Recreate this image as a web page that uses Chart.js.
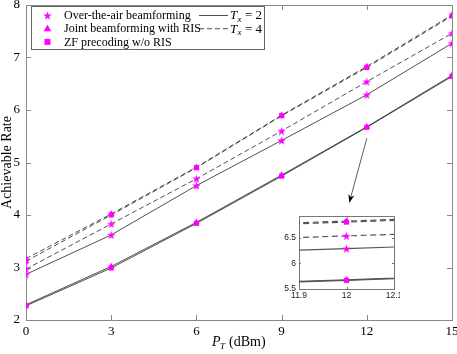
<!DOCTYPE html>
<html>
<head>
<meta charset="utf-8">
<script src="https://cdn.jsdelivr.net/npm/chart.js@4.4.0/dist/chart.umd.min.js"></script>
<style>
html, body { margin: 0; padding: 0; background: #fff; }
#wrap { position: relative; width: 457px; height: 354px; }
#main { position: absolute; left: 0; top: 0; }
#inset { position: absolute; left: 270px; top: 210px; }
</style>
</head>
<body>
<div id="wrap">
  <canvas id="main" width="457" height="354"></canvas>
  <canvas id="inset" width="130" height="94"></canvas>
</div>
<script>
// transmit power (dBm)
const power = [0, 3, 6, 9, 12, 15];

// achievable rate per scheme / number of antennas
const otaTx2 = [2.87, 3.62, 4.56, 5.42, 6.29, 7.27];
const otaTx4 = [2.97, 3.83, 4.69, 5.60, 6.54, 7.46];
const jointTx2 = [2.29, 3.02, 3.86, 4.76, 5.68, 6.66];
const jointTx4 = [3.17, 4.02, 4.91, 5.90, 6.83, 7.81];
const zfTx2 = [2.27, 2.99, 3.84, 4.74, 5.67, 6.64];
const zfTx4 = [3.12, 4.00, 4.90, 5.89, 6.81, 7.79];

const xTicks = [0, 3, 6, 9, 12, 15];
const yTicks = [2, 3, 4, 5, 6, 7, 8];
const insetXTicks = [11.9, 12, 12.1];
const insetYTicks = [5.5, 6, 6.5];

const MAGENTA = "#ff00ff";
const SERIF = "'Liberation Serif', 'DejaVu Serif', serif";
const SANS = "'Liberation Sans', Arial, sans-serif";

const starImage = (size) => {
    const c = document.createElement("canvas");
    c.width = size;
    c.height = size;
    const g = c.getContext("2d");
    g.fillStyle = MAGENTA;
    g.beginPath();
    for (let i = 0; i < 10; i++) {
        const r = i % 2 ? size * 0.2 : size / 2;
        const a = -Math.PI / 2 + i * Math.PI / 5;
        g.lineTo(size / 2 + r * Math.cos(a), size / 2 + 0.5 + r * Math.sin(a));
    }
    g.closePath();
    g.fill();
    return c;
};

const series = [
    { data: zfTx2, marker: "rect", dash: [] },
    { data: zfTx4, marker: "rect", dash: [5, 3] },
    { data: jointTx2, marker: "triangle", dash: [] },
    { data: jointTx4, marker: "triangle", dash: [5, 3] },
    { data: otaTx2, marker: "star", dash: [] },
    { data: otaTx4, marker: "star", dash: [5, 3] }
];

const makeDatasets = (inset) => series.map((s) => ({
    data: power.map((x, i) => ({ x, y: s.data[i] })),
    borderColor: inset ? "#555" : "#222",
    borderWidth: inset ? 1.2 : 0.8,
    borderDash: inset ? s.dash.map((d) => d * 1.2) : s.dash,
    pointStyle: s.marker === "star" ? starImage(9) : s.marker,
    pointRadius: s.marker === "rect" ? 3.6 : 3.8,
    pointBackgroundColor: MAGENTA,
    pointBorderColor: MAGENTA,
    pointBorderWidth: 0,
    clip: 0,
    tension: 0,
    fill: false
}));

// box and inward ticks, matlab style
const boxPlugin = {
    id: "box",
    beforeDatasetsDraw(chart, args, opts) {
        const { ctx, chartArea: a, scales } = chart;
        ctx.save();
        ctx.fillStyle = "#fff";
        ctx.fillRect(a.left, a.top, a.right - a.left, a.bottom - a.top);
        ctx.strokeStyle = opts.color;
        ctx.lineWidth = 1;
        ctx.strokeRect(Math.round(a.left) + 0.5, Math.round(a.top) + 0.5,
            Math.round(a.right - a.left), Math.round(a.bottom - a.top));
        const len = opts.len;
        ctx.beginPath();
        scales.x.ticks.forEach((t) => {
            const x = Math.round(scales.x.getPixelForValue(t.value)) + 0.5;
            ctx.moveTo(x, a.bottom); ctx.lineTo(x, a.bottom - len);
            ctx.moveTo(x, a.top); ctx.lineTo(x, a.top + len);
        });
        scales.y.ticks.forEach((t) => {
            const y = Math.round(scales.y.getPixelForValue(t.value)) + 0.5;
            ctx.moveTo(a.left, y); ctx.lineTo(a.left + len, y);
            ctx.moveTo(a.right, y); ctx.lineTo(a.right - len, y);
        });
        ctx.stroke();
        ctx.restore();
    }
};

const drawMarker = (ctx, kind, x, y) => {
    ctx.fillStyle = MAGENTA;
    if (kind === "star") {
        ctx.drawImage(starImage(9), x - 4.5, y - 4.5);
    } else if (kind === "triangle") {
        ctx.beginPath();
        ctx.moveTo(x, y - 4.2);
        ctx.lineTo(x + 3.8, y + 2.6);
        ctx.lineTo(x - 3.8, y + 2.6);
        ctx.closePath();
        ctx.fill();
    } else {
        ctx.fillRect(x - 3, y - 3, 6, 6);
    }
};

const legendRows = [
    { label: "Over-the-air beamforming", marker: "star" },
    { label: "Joint beamforming with RIS", marker: "triangle" },
    { label: "ZF precoding w/o RIS", marker: "rect" }
];
const lineKeys = [{ dash: [], n: "2" }, { dash: [5, 3], n: "4" }];

const annotatePlugin = {
    id: "annotate",
    afterDatasetsDraw(chart) {
        const { ctx, scales } = chart;
        ctx.save();
        // legend
        ctx.fillStyle = "#fff";
        ctx.fillRect(31, 6, 233, 43);
        ctx.strokeStyle = "#666";
        ctx.lineWidth = 1;
        ctx.strokeRect(31.5, 6.5, 233, 43);
        ctx.textBaseline = "middle";
        legendRows.forEach((row, i) => {
            const y = 15.5 + i * 13.2;
            drawMarker(ctx, row.marker, 47.5, y);
            ctx.fillStyle = "#000";
            ctx.font = "12px " + SERIF;
            ctx.fillText(row.label, 64, y + 0.5);
        });
        lineKeys.forEach((k, i) => {
            const y = 15.5 + i * 13.2;
            ctx.strokeStyle = "#222";
            ctx.lineWidth = 0.8;
            ctx.setLineDash(k.dash);
            ctx.beginPath();
            ctx.moveTo(199, y);
            ctx.lineTo(228, y);
            ctx.stroke();
            ctx.setLineDash([]);
            ctx.fillStyle = "#000";
            ctx.font = "italic 13px " + SERIF;
            ctx.fillText("T", 230, y + 0.5);
            ctx.font = "italic 9px " + SERIF;
            ctx.fillText("x", 237.5, y + 4);
            ctx.font = "13px " + SERIF;
            ctx.fillText("= " + k.n, 245, y + 0.5);
        });

        // arrow toward zoomed view
        const x0 = scales.x.getPixelForValue(12);
        const y0 = scales.y.getPixelForValue(5.46);
        const x1 = scales.x.getPixelForValue(11.38);
        const y1 = scales.y.getPixelForValue(4.23);
        const ang = Math.atan2(y1 - y0, x1 - x0);
        ctx.strokeStyle = "#333";
        ctx.lineWidth = 0.8;
        ctx.beginPath();
        ctx.moveTo(x0, y0);
        ctx.lineTo(x1 - 4 * Math.cos(ang), y1 - 4 * Math.sin(ang));
        ctx.stroke();
        ctx.fillStyle = "#000";
        ctx.beginPath();
        ctx.moveTo(x1, y1);
        ctx.lineTo(x1 - 9 * Math.cos(ang - 0.35), y1 - 9 * Math.sin(ang - 0.35));
        ctx.lineTo(x1 - 6 * Math.cos(ang), y1 - 6 * Math.sin(ang));
        ctx.lineTo(x1 - 9 * Math.cos(ang + 0.35), y1 - 9 * Math.sin(ang + 0.35));
        ctx.closePath();
        ctx.fill();

        // x axis title P_T (dBm)
        ctx.fillStyle = "#000";
        ctx.textBaseline = "alphabetic";
        ctx.font = "italic 14px " + SERIF;
        ctx.fillText("P", 212, 346);
        ctx.font = "italic 9px " + SERIF;
        ctx.fillText("T", 220, 349);
        ctx.font = "14px " + SERIF;
        ctx.fillText("(dBm)", 229, 346);
        ctx.restore();
    }
};

new Chart(document.getElementById("main"), {
    type: "line",
    data: { datasets: makeDatasets(false) },
    options: {
        responsive: false,
        animation: false,
        layout: { padding: { top: 5, right: 5, left: 0, bottom: 0 } },
        plugins: { legend: { display: false }, tooltip: { enabled: false }, box: { color: "#888", len: 5 } },
        scales: {
            x: {
                type: "linear", min: 0, max: 15,
                afterBuildTicks: (s) => { s.ticks = xTicks.map((v) => ({ value: v })); },
                afterFit: (s) => { s.height = 34; s.paddingLeft = 0; s.paddingRight = 0; },
                grid: { display: false, drawTicks: false },
                border: { display: false },
                ticks: { color: "#000", font: { family: SERIF, size: 13 }, padding: 4, maxRotation: 0 }
            },
            y: {
                type: "linear", min: 2, max: 8,
                afterBuildTicks: (s) => { s.ticks = yTicks.map((v) => ({ value: v })); },
                afterFit: (s) => { s.width = 26; s.paddingTop = 0; s.paddingBottom = 0; },
                grid: { display: false, drawTicks: false },
                border: { display: false },
                ticks: { color: "#000", font: { family: SERIF, size: 13 }, padding: 6 },
                title: { display: true, text: "Achievable Rate", color: "#000", font: { family: SERIF, size: 14, lineHeight: 1 }, padding: { top: 0, bottom: 0 } }
            }
        }
    },
    plugins: [boxPlugin, annotatePlugin]
});

new Chart(document.getElementById("inset"), {
    type: "line",
    data: { datasets: makeDatasets(true) },
    options: {
        responsive: false,
        animation: false,
        layout: { padding: { top: 6, right: 6, left: 0, bottom: 0 } },
        plugins: { legend: { display: false }, tooltip: { enabled: false }, box: { color: "#777", len: 2 } },
        scales: {
            x: {
                type: "linear", min: 11.9, max: 12.1,
                afterBuildTicks: (s) => { s.ticks = insetXTicks.map((v) => ({ value: v })); },
                afterFit: (s) => { s.height = 15; s.paddingLeft = 0; s.paddingRight = 0; },
                grid: { display: false, drawTicks: false },
                border: { display: false },
                ticks: { color: "#222", font: { family: SANS, size: 8.5 }, padding: 2, maxRotation: 0,
                    callback: (v) => String(Math.round(v * 10) / 10) }
            },
            y: {
                type: "linear", min: 5.5, max: 6.93,
                afterBuildTicks: (s) => { s.ticks = insetYTicks.map((v) => ({ value: v })); },
                afterFit: (s) => { s.width = 29; s.paddingTop = 0; s.paddingBottom = 0; },
                grid: { display: false, drawTicks: false },
                border: { display: false },
                ticks: { color: "#222", font: { family: SANS, size: 8.5 }, padding: 3,
                    callback: (v) => String(Math.round(v * 10) / 10) }
            }
        }
    },
    plugins: [boxPlugin]
});
</script>
</body>
</html>
